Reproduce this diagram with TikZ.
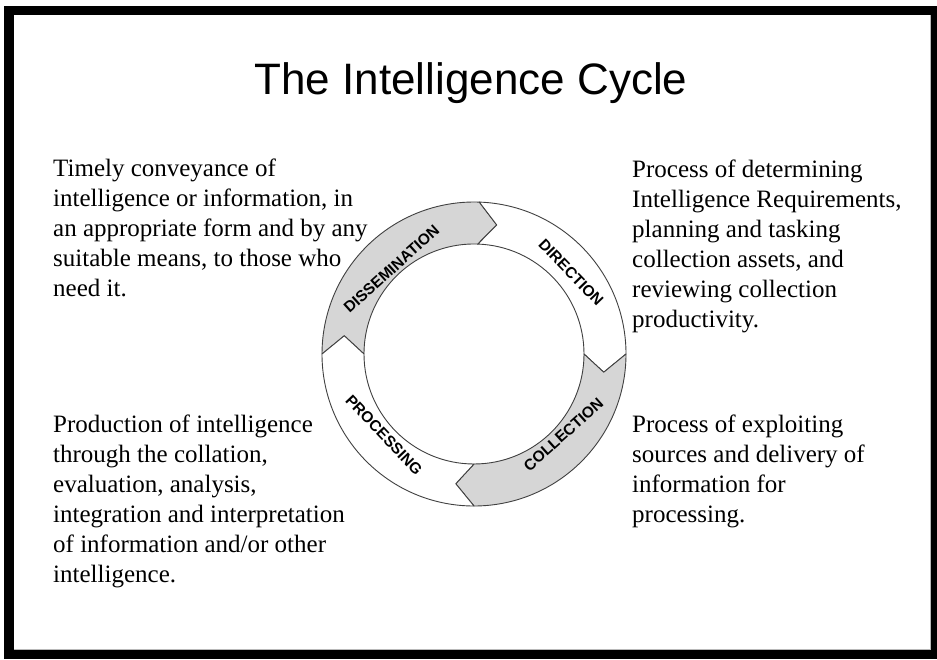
\documentclass[tikz,border=0pt]{standalone}
\usepackage{fontspec}
\setmainfont{Liberation Serif}
\newfontfamily\arialfont{Liberation Sans}
\definecolor{ringgrey}{HTML}{D6D6D6}
\definecolor{edgegrey}{HTML}{404040}
\tikzset{
  seg/.style={draw=edgegrey, line width=0.9pt, line join=round},
  desc/.style={anchor=north west, inner sep=0pt, align=left,
    font=\fontsize{25}{30}\selectfont},
  ringlabel/.style={inner sep=0pt, font=\arialfont\bfseries\fontsize{15.5}{16}\selectfont},
}
\begin{document}
\begin{tikzpicture}[x=1pt,y=1pt]
\path[use as bounding box, fill=white] (0,0) rectangle (937,659);
% frame
\fill[black] (4,0) rectangle (937,653);
\fill[white] (14,9) rectangle (931,644);
\draw[gray!55, line width=1pt] (14,9.5) -- (930.5,9.5) -- (930.5,644);
% title
\node[anchor=base, inner sep=0pt, font=\arialfont\fontsize{44}{48}\selectfont] (title) at (471,564) {The Intelligence Cycle};
% description texts
\node[desc] (tl) at (53,500) {Timely conveyance of\\intelligence or information, in\\an appropriate form and by any\\suitable means, to those who\\need it.};
\node[desc] (bl) at (53,244) {Production of intelligence\\through the collation,\\evaluation, analysis,\\integration and interpretation\\of information and/or other\\intelligence.};
\node[desc] (tr) at (632,499) {Process of determining\\Intelligence Requirements,\\planning and tasking\\collection assets, and\\reviewing collection\\productivity.};
\node[desc] (br) at (632,244) {Process of exploiting\\sources and delivery of\\information for\\processing.};
% ring of four arrows
\begin{scope}[shift={(474,305)}]
  % dissemination (grey)
  \draw[seg, fill=ringgrey] (180:152) arc[start angle=180, end angle=88, radius=152]
    -- (80:131) -- (88:110) arc[start angle=88, end angle=180, radius=110]
    -- (172:131) -- cycle;
  % direction (white)
  \draw[seg, fill=white] (88:152) arc[start angle=88, end angle=0, radius=152]
    -- (-8:131) -- (0:110) arc[start angle=0, end angle=88, radius=110]
    -- (80:131) -- cycle;
  % collection (grey)
  \draw[seg, fill=ringgrey] (0:152) arc[start angle=0, end angle=-90, radius=152]
    -- (-98:131) -- (-90:110) arc[start angle=-90, end angle=0, radius=110]
    -- (-8:131) -- cycle;
  % processing (white)
  \draw[seg, fill=white] (-90:152) arc[start angle=-90, end angle=-180, radius=152]
    -- (172:131) -- (180:110) arc[start angle=180, end angle=270, radius=110]
    -- (-98:131) -- cycle;
\end{scope}
\node[ringlabel, rotate=42] (dis) at (391.5,390) {DISSEMINATION};
\node[ringlabel, rotate=-46] (dir) at (571,386.5) {DIRECTION};
\node[ringlabel, rotate=42] (col) at (563.5,224.5) {COLLECTION};
\node[ringlabel, rotate=-46.5] (pro) at (384,224) {PROCESSING};
\end{tikzpicture}
\end{document}
